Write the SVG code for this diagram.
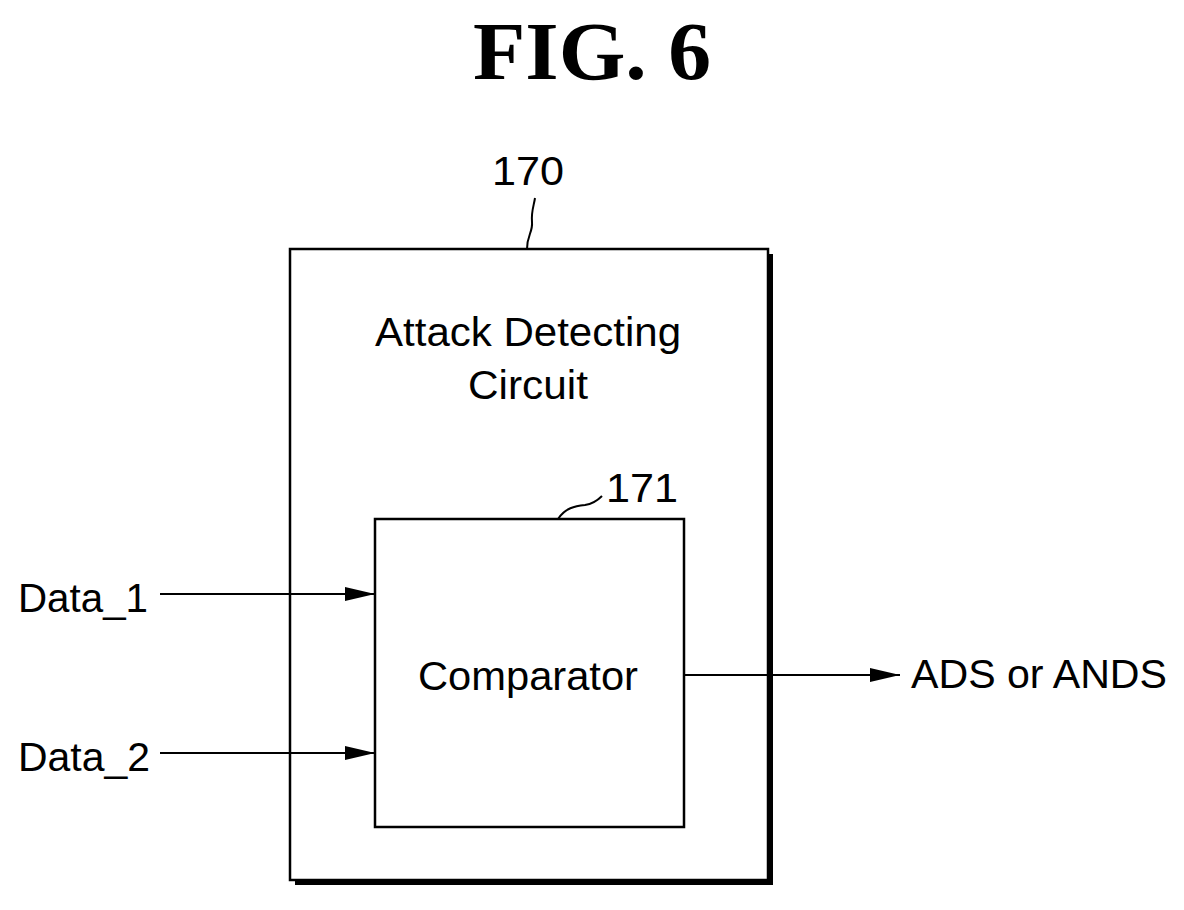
<svg xmlns="http://www.w3.org/2000/svg" width="1184" height="910" viewBox="0 0 1184 910">
<defs>
<style>
.t{font-family:"Liberation Sans",Arial,sans-serif;font-size:40px;fill:#000}
.b{fill:#fff;stroke:#000;stroke-width:2.5}
.l{stroke:#000;stroke-width:2;fill:none}
</style>
<marker id="a" markerWidth="30" markerHeight="14" refX="30" refY="7" orient="auto" markerUnits="userSpaceOnUse"><path d="M0,0 L30,7 L0,14 Z" fill="#000"/></marker>
</defs>
<rect width="1184" height="910" fill="#fff"/>
<text x="592" y="79" text-anchor="middle" textLength="238" lengthAdjust="spacingAndGlyphs" style="font-family:'Liberation Serif',serif;font-weight:bold;font-size:82px">FIG. 6</text>
<g id="n170">
<rect x="295" y="254" width="478" height="631" fill="#000"/>
<rect class="b" x="290" y="249" width="478" height="631"/>
<text class="t" x="528" y="346" text-anchor="middle" textLength="306" lengthAdjust="spacingAndGlyphs">Attack Detecting</text>
<text class="t" x="528" y="399" text-anchor="middle" textLength="120" lengthAdjust="spacingAndGlyphs">Circuit</text>
<text class="t" x="528" y="185" text-anchor="middle" textLength="72" lengthAdjust="spacingAndGlyphs">170</text>
<path class="l" d="M527,249 C527,235 533,232 532,222 C531,212 534,205 535,198"/>
</g>
<g id="n171">
<rect class="b" x="375" y="519" width="309" height="308"/>
<text class="t" x="528" y="690" text-anchor="middle" textLength="220" lengthAdjust="spacingAndGlyphs">Comparator</text>
<text class="t" x="642" y="502" text-anchor="middle" textLength="72" lengthAdjust="spacingAndGlyphs">171</text>
<path class="l" d="M558,519 C565,508 575,506 585,505 C592,504 597,501 602,496"/>
</g>
<g id="labels">
<text class="t" x="18" y="612" textLength="130" lengthAdjust="spacingAndGlyphs">Data_1</text>
<text class="t" x="18" y="771" textLength="132" lengthAdjust="spacingAndGlyphs">Data_2</text>
<text class="t" x="911" y="688" textLength="256" lengthAdjust="spacingAndGlyphs">ADS or ANDS</text>
</g>
<g id="connectors">
<line class="l" x1="160" y1="594" x2="375" y2="594" marker-end="url(#a)"/>
<line class="l" x1="160" y1="753" x2="375" y2="753" marker-end="url(#a)"/>
<line class="l" x1="684" y1="675" x2="900" y2="675" marker-end="url(#a)"/>
</g>
</svg>
